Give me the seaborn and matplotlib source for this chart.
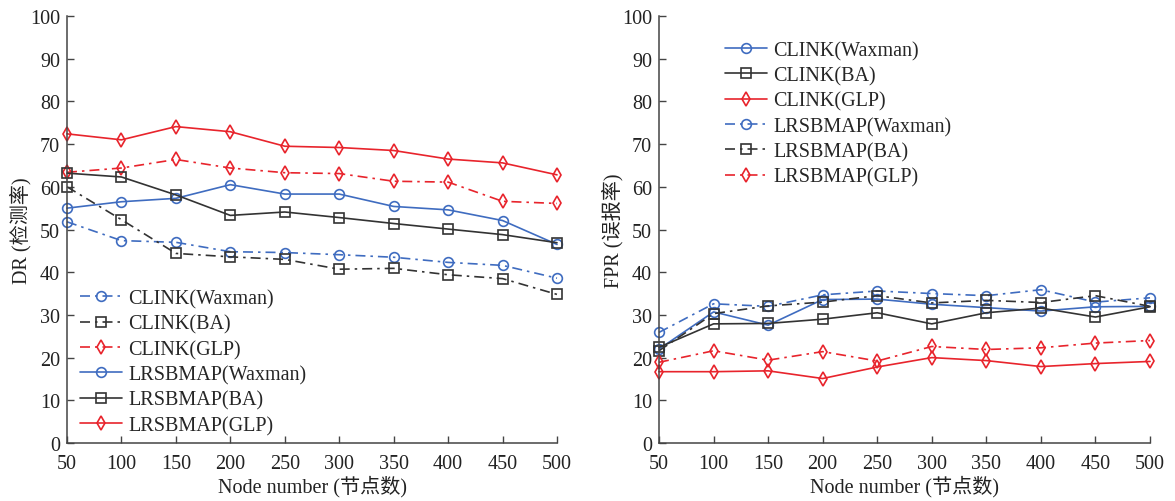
import numpy as np
import pandas as pd
import matplotlib
matplotlib.use("Agg")
import matplotlib.pyplot as plt
import seaborn as sns

# ---------------- data ----------------
nodes = [50, 100, 150, 200, 250, 300, 350, 400, 450, 500]

# Left panel: DR (detection rate)
dr_clink_waxman = [51.8, 47.4, 47.0, 44.8, 44.6, 44.1, 43.5, 42.3, 41.6, 38.6]
dr_clink_ba = [60.0, 52.3, 44.4, 43.6, 43.0, 40.7, 40.9, 39.4, 38.5, 34.8]
dr_clink_glp = [63.4, 64.4, 66.4, 64.4, 63.3, 63.1, 61.3, 61.1, 56.6, 56.1]
dr_lrsb_waxman = [55.0, 56.5, 57.3, 60.5, 58.3, 58.3, 55.4, 54.6, 52.1, 46.5]
dr_lrsb_ba = [63.2, 62.3, 58.1, 53.3, 54.1, 52.8, 51.4, 50.1, 48.8, 46.9]
dr_lrsb_glp = [72.4, 71.0, 74.1, 72.9, 69.5, 69.2, 68.5, 66.5, 65.6, 62.8]

# Right panel: FPR (false positive rate)
fpr_clink_waxman = [22.0, 30.7, 27.6, 33.6, 33.7, 32.5, 31.7, 30.9, 31.9, 32.0]
fpr_clink_ba = [22.4, 27.9, 28.0, 29.0, 30.5, 27.9, 30.5, 31.6, 29.5, 31.9]
fpr_clink_glp = [16.7, 16.7, 16.9, 15.1, 17.8, 20.0, 19.3, 17.9, 18.6, 19.1]
fpr_lrsb_waxman = [25.9, 32.6, 32.0, 34.7, 35.6, 35.0, 34.5, 35.9, 33.0, 34.0]
fpr_lrsb_ba = [21.6, 30.3, 32.1, 33.0, 34.5, 32.8, 33.4, 32.9, 34.5, 32.0]
fpr_lrsb_glp = [18.9, 21.6, 19.4, 21.4, 19.2, 22.6, 21.9, 22.3, 23.4, 24.0]

labels_clink = ["CLINK(Waxman)", "CLINK(BA)", "CLINK(GLP)"]
labels_lrsb = ["LRSBMAP(Waxman)", "LRSBMAP(BA)", "LRSBMAP(GLP)"]
x_ticks = [50, 100, 150, 200, 250, 300, 350, 400, 450, 500]
y_ticks = [0, 10, 20, 30, 40, 50, 60, 70, 80, 90, 100]

# ---------------- style ----------------
sns.set_theme(style="ticks")
plt.rcParams["font.family"] = ["Liberation Serif", "Noto Sans CJK SC", "DejaVu Sans"]
plt.rcParams["axes.unicode_minus"] = False

BLUE = "#3F6CC0"
BLACK = "#333333"
RED = "#E8242C"
COLORS = [BLUE, BLACK, RED]
MARKERS = ["o", "s", "d"]
MSIZES = [7, 7, 7.5]
SOLID = "-"
DASHDOT = (0, (6, 3, 1.5, 3))
FS = 14.5
TXT = "#222222"

fig = plt.figure(figsize=(11.75, 5.02), dpi=100)
ax1 = fig.add_axes([67 / 1175, 58 / 502, 490 / 1175, 427 / 502])
ax2 = fig.add_axes([659 / 1175, 58 / 502, 491 / 1175, 427 / 502])


def draw(ax, series, labels, ls):
    for vals, lab, col, mk, ms in zip(series, labels, COLORS, MARKERS, MSIZES):
        sns.lineplot(x=nodes, y=vals, ax=ax, color=col, linestyle=ls, linewidth=1.2,
                     marker=mk, markersize=ms, markerfacecolor="none",
                     markeredgecolor=col, markeredgewidth=1.2, label=lab,
                     clip_on=False)


# left: CLINK dash-dot first, then LRSBMAP solid
draw(ax1, [dr_clink_waxman, dr_clink_ba, dr_clink_glp], labels_clink, DASHDOT)
draw(ax1, [dr_lrsb_waxman, dr_lrsb_ba, dr_lrsb_glp], labels_lrsb, SOLID)

# right: CLINK solid, LRSBMAP dash-dot
draw(ax2, [fpr_clink_waxman, fpr_clink_ba, fpr_clink_glp], labels_clink, SOLID)
draw(ax2, [fpr_lrsb_waxman, fpr_lrsb_ba, fpr_lrsb_glp], labels_lrsb, DASHDOT)

for ax, ylab in [(ax1, "DR (检测率)"), (ax2, "FPR (误报率)")]:
    ax.set_xlim(50, 500)
    ax.set_ylim(0, 100)
    ax.set_xticks(x_ticks)
    ax.set_yticks(y_ticks)
    ax.set_xticklabels([str(v) for v in x_ticks], fontsize=FS)
    ax.set_yticklabels([str(v) for v in y_ticks], fontsize=FS)
    ax.tick_params(direction="in", length=5, width=1, color="#444444",
                   labelcolor=TXT)
    ax.tick_params(axis="x", pad=8)
    ax.tick_params(axis="y", pad=5)
    for side in ["top", "right"]:
        ax.spines[side].set_visible(False)
    for side in ["left", "bottom"]:
        ax.spines[side].set_color("#444444")
        ax.spines[side].set_linewidth(1.1)
    ax.set_xlabel("Node number (节点数)", fontsize=FS, color=TXT, labelpad=1)
    ax.set_ylabel(ylab, fontsize=FS, color=TXT, labelpad=-1)
    ax.set_facecolor("white")

leg_kw = dict(frameon=False, fontsize=FS, handlelength=2.1, handletextpad=0.3,
              labelspacing=0.3, borderaxespad=0, borderpad=0)
ax1.legend(loc="lower left", bbox_to_anchor=(13 / 490, 8 / 427), **leg_kw)
ax2.legend(loc="upper left", bbox_to_anchor=(66 / 491, 1 - 25 / 427), **leg_kw)

fig.savefig("out.png", dpi=100, facecolor="white")
